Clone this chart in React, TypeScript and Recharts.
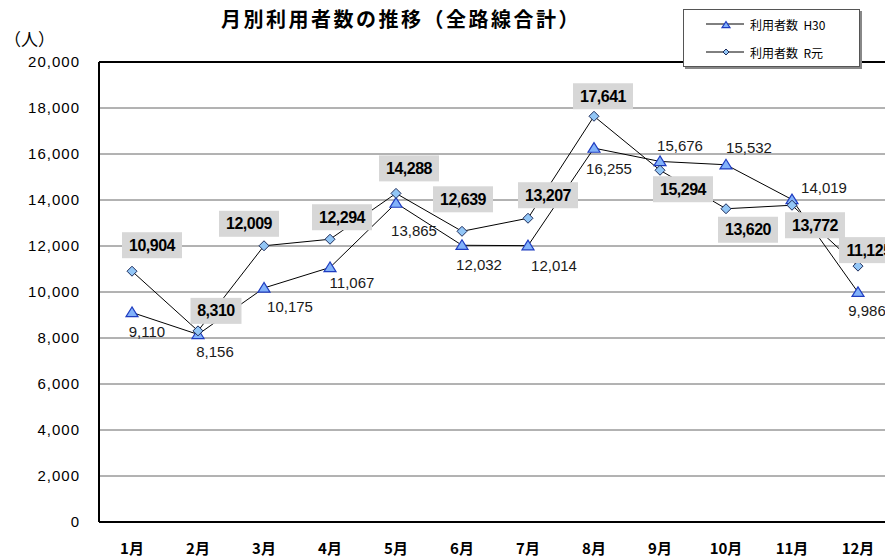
import { LineChart, Line, XAxis, YAxis, CartesianGrid, ReferenceLine, LabelList, Legend } from 'recharts';

const months = ['1月', '2月', '3月', '4月', '5月', '6月', '7月', '8月', '9月', '10月', '11月', '12月'];
const usersH30 = [9110, 8156, 10175, 11067, 13865, 12032, 12014, 16255, 15676, 15532, 14019, 9986];
const usersR1 = [10904, 8310, 12009, 12294, 14288, 12639, 13207, 17641, 15294, 13620, 13772, 11125];
const yTicks = [0, 2000, 4000, 6000, 8000, 10000, 12000, 14000, 16000, 18000, 20000];

// where each data label sits relative to its point (px)
const h30LabelOffset = [[15, 19], [17, 17], [26, 19], [22, 15], [18, 27], [17, 19], [26, 20], [15, 20], [20, -16], [23, -17], [32, -12], [9, 18]];
const r1LabelOffset = [[20, -26], [18, -20], [-15, -22], [12, -22], [13, -25], [1, -32], [20, -23], [9, -20], [23, 19], [22, 21], [23, 20], [11, -16]];

const data = months.map((m, i) => ({ month: m, h30: usersH30[i], r1: usersR1[i] }));

const fmt = (v: number) => Number(v).toLocaleString('en-US');

const TRI_FILL = '#82b2fa';
const TRI_STROKE = '#1f3cc0';
const DIA_FILL = '#92c6f6';
const DIA_STROKE = '#1e2d5c';

const Triangle = ({ cx, cy, s = 5.5 }: any) => (
  <polygon
    points={`${cx},${cy - s} ${cx - s - 0.5},${cy + s * 0.75} ${cx + s + 0.5},${cy + s * 0.75}`}
    fill={TRI_FILL}
    stroke={TRI_STROKE}
    strokeWidth={1.2}
  />
);

const Diamond = ({ cx, cy, s = 5 }: any) => (
  <polygon
    points={`${cx},${cy - s} ${cx + s},${cy} ${cx},${cy + s} ${cx - s},${cy}`}
    fill={DIA_FILL}
    stroke={DIA_STROKE}
    strokeWidth={1}
  />
);

const h30Label = (p: any) => {
  const [dx, dy] = h30LabelOffset[p.index];
  return (
    <text
      key={`hl-${p.index}`}
      x={p.x + dx}
      y={p.y + dy}
      textAnchor="middle"
      dominantBaseline="central"
      fontFamily="'Liberation Sans', Arial, sans-serif"
      fontSize={15}
      fill="#1a1a1a"
    >
      {fmt(p.value)}
    </text>
  );
};

const r1Label = (p: any) => {
  const [dx, dy] = r1LabelOffset[p.index];
  const txt = fmt(p.value);
  const w = txt.length * 9 + 6;
  const h = 26;
  const cx = p.x + dx;
  const cy = p.y + dy;
  return (
    <g key={`rl-${p.index}`}>
      <rect x={cx - w / 2} y={cy - h / 2} width={w} height={h} fill="#d7d7d7" />
      <text
        x={cx}
        y={cy}
        textAnchor="middle"
        dominantBaseline="central"
        fontFamily="'Liberation Sans', Arial, sans-serif"
        fontSize={16}
        fontWeight="bold"
        letterSpacing={-0.5}
        fill="#000"
      >
        {txt}
      </text>
    </g>
  );
};

const LegendBox = () => (
  <div
    style={{
      width: 177,
      height: 58,
      background: '#fff',
      border: '1px solid #555',
      boxShadow: '2px 2px 0 #888',
      fontFamily: "'Noto Sans CJK JP', sans-serif",
      fontSize: 12,
      color: '#000',
      boxSizing: 'border-box',
    }}
  >
    {[
      { label: '利用者数\u00a0\u00a0H30', mark: 'tri' },
      { label: '利用者数\u00a0\u00a0R元', mark: 'dia' },
    ].map((it, i) => (
      <div key={i} style={{ display: 'flex', alignItems: 'center', height: 28, paddingLeft: 21 }}>
        <svg width={40} height={12}>
          <line x1={1} y1={6} x2={39} y2={6} stroke="#000" strokeWidth={1} />
          {it.mark === 'tri' ? <Triangle cx={21} cy={7} s={3.5} /> : <Diamond cx={21} cy={6} s={3} />}
        </svg>
        <span style={{ marginLeft: 5, whiteSpace: 'pre' }}>{it.label}</span>
      </div>
    ))}
  </div>
);

export default function App() {
  return (
    <div style={{ position: 'fixed', left: 0, top: 0, width: 885, height: 559, overflow: 'hidden', background: '#fff' }}>
      <div
        style={{
          position: 'absolute',
          left: 221,
          top: 5,
          fontFamily: "'Noto Sans CJK JP', sans-serif",
          fontSize: 20,
          fontWeight: 'bold',
          letterSpacing: 2.5,
          whiteSpace: 'nowrap',
          lineHeight: '28px',
        }}
      >
        月別利用者数の推移（全路線合計）
      </div>
      <div
        style={{
          position: 'absolute',
          left: 4,
          top: 27,
          fontFamily: "'Noto Sans CJK JP', sans-serif",
          fontSize: 17,
          lineHeight: '24px',
          whiteSpace: 'nowrap',
        }}
      >
        （人）
      </div>
      <LineChart width={900} height={559} data={data} margin={{ top: 62, right: 9, bottom: 0, left: 0 }}>
        <CartesianGrid vertical={false} stroke="#666" strokeWidth={1} />
        <XAxis
          dataKey="month"
          height={37}
          padding={{ left: 33, right: 33 }}
          axisLine={{ stroke: '#000', strokeWidth: 2 }}
          tickLine={false}
          tickSize={0}
          tickMargin={21}
          interval={0}
          tick={{ fill: '#000', fontSize: 15, fontWeight: 'bold', fontFamily: "'Noto Sans CJK JP', sans-serif" }}
        />
        <YAxis
          width={99}
          domain={[0, 20000]}
          ticks={yTicks}
          tickFormatter={fmt}
          interval={0}
          axisLine={{ stroke: '#000', strokeWidth: 2 }}
          tickLine={false}
          tickSize={0}
          tickMargin={19}
          tick={{ fill: '#000', fontSize: 15, letterSpacing: 1, fontFamily: "'Liberation Sans', Arial, sans-serif" }}
        />
        <ReferenceLine y={20000} stroke="#000" strokeWidth={2} />
        <Legend
          layout="horizontal"
          verticalAlign="middle"
          align="center"
          content={() => <LegendBox />}
          wrapperStyle={{ left: 683, top: 9, width: 179, height: 60 }}
        />
        <Line
          dataKey="h30"
          name="利用者数 H30"
          stroke="#000"
          strokeWidth={1}
          isAnimationActive={false}
          dot={(p: any) => <Triangle key={`t-${p.index}`} cx={p.cx} cy={p.cy} />}
          activeDot={false}
        >
          <LabelList dataKey="h30" content={h30Label} />
        </Line>
        <Line
          dataKey="r1"
          name="利用者数 R元"
          stroke="#000"
          strokeWidth={1}
          isAnimationActive={false}
          dot={(p: any) => <Diamond key={`d-${p.index}`} cx={p.cx} cy={p.cy} />}
          activeDot={false}
        >
          <LabelList dataKey="r1" content={r1Label} />
        </Line>
      </LineChart>
    </div>
  );
}
